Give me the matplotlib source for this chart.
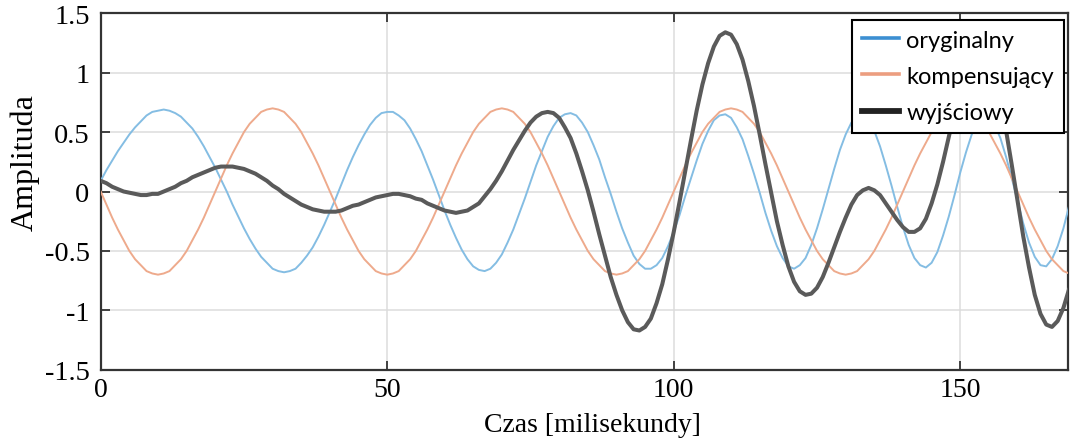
import numpy as np
import matplotlib
matplotlib.use("Agg")
import matplotlib.pyplot as plt
from matplotlib.lines import Line2D

# ---------------- data (1 ms steps) ----------------
time_ms = np.arange(0, 170, 1)

oryginalny = [
    0.09, 0.18, 0.26, 0.34, 0.41, 0.48, 0.54, 0.59, 0.64, 0.67,
    0.68, 0.69, 0.68, 0.66, 0.63, 0.58, 0.53, 0.46, 0.38, 0.29,
    0.20, 0.10, 0.00, -0.11, -0.21, -0.31, -0.40, -0.48, -0.55, -0.60,
    -0.65, -0.67, -0.68, -0.67, -0.65, -0.60, -0.54, -0.47, -0.38, -0.28,
    -0.17, -0.06, 0.06, 0.18, 0.29, 0.39, 0.48, 0.56, 0.62, 0.66,
    0.67, 0.67, 0.64, 0.60, 0.53, 0.44, 0.34, 0.22, 0.10, -0.03,
    -0.16, -0.28, -0.39, -0.49, -0.57, -0.63, -0.66, -0.67, -0.65, -0.60,
    -0.53, -0.43, -0.32, -0.19, -0.06, 0.08, 0.22, 0.34, 0.46, 0.55,
    0.62, 0.65, 0.66, 0.64, 0.58, 0.50, 0.39, 0.27, 0.12, -0.02,
    -0.17, -0.31, -0.43, -0.54, -0.61, -0.65, -0.65, -0.62, -0.56, -0.46,
    -0.34, -0.20, -0.04, 0.11, 0.26, 0.40, 0.51, 0.60, 0.64, 0.65,
    0.62, 0.54, 0.44, 0.30, 0.15, -0.01, -0.18, -0.33, -0.46, -0.56,
    -0.63, -0.65, -0.62, -0.56, -0.45, -0.31, -0.15, 0.02, 0.19, 0.35,
    0.48, 0.58, 0.63, 0.64, 0.60, 0.51, 0.38, 0.22, 0.05, -0.13,
    -0.30, -0.45, -0.56, -0.62, -0.64, -0.60, -0.51, -0.37, -0.21, -0.03,
    0.16, 0.33, 0.48, 0.58, 0.63, 0.62, 0.56, 0.45, 0.29, 0.11,
    -0.08, -0.27, -0.43, -0.55, -0.62, -0.63, -0.57, -0.46, -0.31, -0.12,
]

kompensujacy = [
    0.00, -0.11, -0.22, -0.32, -0.41, -0.50, -0.57, -0.62, -0.67, -0.69,
    -0.70, -0.69, -0.67, -0.62, -0.57, -0.50, -0.41, -0.32, -0.22, -0.11,
    0.00, 0.11, 0.22, 0.32, 0.41, 0.50, 0.57, 0.62, 0.67, 0.69,
    0.70, 0.69, 0.67, 0.62, 0.57, 0.50, 0.41, 0.32, 0.22, 0.11,
    0.00, -0.11, -0.22, -0.32, -0.41, -0.50, -0.57, -0.62, -0.67, -0.69,
    -0.70, -0.69, -0.67, -0.62, -0.57, -0.50, -0.41, -0.32, -0.22, -0.11,
    0.00, 0.11, 0.22, 0.32, 0.41, 0.50, 0.57, 0.62, 0.67, 0.69,
    0.70, 0.69, 0.67, 0.62, 0.57, 0.50, 0.41, 0.32, 0.22, 0.11,
    0.00, -0.11, -0.22, -0.32, -0.41, -0.50, -0.57, -0.62, -0.67, -0.69,
    -0.70, -0.69, -0.67, -0.62, -0.57, -0.50, -0.41, -0.32, -0.22, -0.11,
    0.00, 0.11, 0.22, 0.32, 0.41, 0.50, 0.57, 0.62, 0.67, 0.69,
    0.70, 0.69, 0.67, 0.62, 0.57, 0.50, 0.41, 0.32, 0.22, 0.11,
    0.00, -0.11, -0.22, -0.32, -0.41, -0.50, -0.57, -0.62, -0.67, -0.69,
    -0.70, -0.69, -0.67, -0.62, -0.57, -0.50, -0.41, -0.32, -0.22, -0.11,
    0.00, 0.11, 0.22, 0.32, 0.41, 0.50, 0.57, 0.62, 0.67, 0.69,
    0.70, 0.69, 0.67, 0.62, 0.57, 0.50, 0.41, 0.32, 0.22, 0.11,
    0.00, -0.11, -0.22, -0.32, -0.41, -0.50, -0.57, -0.62, -0.67, -0.69,
]

wyjsciowy = [
    0.09, 0.07, 0.04, 0.02, 0.00, -0.01, -0.02, -0.03, -0.03, -0.02,
    -0.02, 0.00, 0.02, 0.04, 0.07, 0.09, 0.12, 0.14, 0.16, 0.18,
    0.20, 0.21, 0.21, 0.21, 0.20, 0.19, 0.17, 0.15, 0.12, 0.09,
    0.05, 0.02, -0.02, -0.05, -0.08, -0.11, -0.13, -0.15, -0.16, -0.17,
    -0.17, -0.17, -0.16, -0.14, -0.12, -0.11, -0.09, -0.07, -0.05, -0.04,
    -0.03, -0.02, -0.02, -0.03, -0.04, -0.06, -0.07, -0.10, -0.12, -0.14,
    -0.16, -0.17, -0.18, -0.17, -0.16, -0.13, -0.10, -0.04, 0.02, 0.09,
    0.17, 0.26, 0.35, 0.43, 0.51, 0.58, 0.63, 0.66, 0.67, 0.66,
    0.62, 0.54, 0.45, 0.32, 0.17, 0.01, -0.17, -0.36, -0.54, -0.72,
    -0.87, -1.00, -1.10, -1.16, -1.17, -1.14, -1.07, -0.94, -0.78, -0.57,
    -0.34, -0.09, 0.17, 0.43, 0.68, 0.90, 1.08, 1.22, 1.31, 1.34,
    1.32, 1.24, 1.11, 0.93, 0.72, 0.48, 0.23, -0.01, -0.25, -0.45,
    -0.63, -0.76, -0.84, -0.87, -0.86, -0.81, -0.72, -0.60, -0.47, -0.34,
    -0.22, -0.11, -0.03, 0.01, 0.03, 0.01, -0.03, -0.10, -0.17, -0.24,
    -0.30, -0.34, -0.34, -0.31, -0.23, -0.10, 0.06, 0.25, 0.46, 0.67,
    0.86, 1.02, 1.14, 1.20, 1.20, 1.12, 0.97, 0.77, 0.51, 0.22,
    -0.08, -0.38, -0.64, -0.87, -1.03, -1.12, -1.14, -1.09, -0.98, -0.82,
]

x_ticks = [0, 50, 100, 150]
x_tick_labels = ["0", "50", "100", "150"]
y_ticks = [-1.5, -1.0, -0.5, 0.0, 0.5, 1.0, 1.5]
y_tick_labels = ["-1.5", "-1", "-0.5", "0", "0.5", "1", "1.5"]
series_names = ["oryginalny", "kompensujący", "wyjściowy"]

# ---------------- figure ----------------
W, H = 1070, 439
fig = plt.figure(figsize=(W / 100, H / 100), dpi=100)
ax_l, ax_r, ax_t, ax_b = 100.7, 1068.0, 14.3, 370.7
ax = fig.add_axes([ax_l / W, 1 - ax_b / H, (ax_r - ax_l) / W, (ax_b - ax_t) / H])

c_blue = "#84bde3"
c_orange = "#eeaa8c"
c_black = "#5a5a5a"

ax.plot(time_ms, oryginalny, color=c_blue, lw=1.4, zorder=3)
ax.plot(time_ms, kompensujacy, color=c_orange, lw=1.4, zorder=3)
ax.plot(time_ms, wyjsciowy, color=c_black, lw=2.9, zorder=4,
        solid_capstyle="round", solid_joinstyle="round")

ax.set_xlim(0, 168.8)
ax.set_ylim(-1.5, 1.5)

serif = ["Liberation Serif", "DejaVu Serif"]
ax.set_xticks(x_ticks)
ax.set_xticklabels(x_tick_labels, fontfamily=serif, fontsize=20)
ax.set_yticks(y_ticks)
ax.set_yticklabels(y_tick_labels, fontfamily=serif, fontsize=20.5)

ax.grid(True, color="#dcdcdc", lw=1.1, zorder=0)
ax.set_axisbelow(True)

spine_c = "#333333"
for s in ax.spines.values():
    s.set_color(spine_c)
    s.set_linewidth(1.6)
ax.tick_params(axis="both", which="both", direction="in", length=6.5, width=1.3,
               color=spine_c, top=True, right=True, labelcolor="black")
ax.tick_params(axis="x", pad=5)
ax.tick_params(axis="y", pad=8)

ax.set_ylabel("Amplituda", fontfamily=serif, fontsize=23)
ax.yaxis.set_label_coords(-0.063, 0.585)
xlab = ax.set_xlabel("Czas [milisekundy]", fontfamily=serif, fontsize=20)

# legend with proxy handles
handles = [
    Line2D([], [], color="#3c8fd2", lw=2.6),
    Line2D([], [], color="#ec9e80", lw=2.6),
    Line2D([], [], color="#222222", lw=4.2),
]
leg = ax.legend(handles, series_names, loc="upper right",
                bbox_to_anchor=(1064 / W, 1 - 20.7 / H),
                bbox_transform=fig.transFigure, borderaxespad=0,
                prop={"family": ["Lato", "DejaVu Sans"], "size": 17},
                frameon=True, fancybox=False, framealpha=1,
                edgecolor="black", handlelength=1.6, handletextpad=0.3,
                labelspacing=0.64, borderpad=0.42)
leg.get_frame().set_linewidth(1.5)
leg.set_zorder(10)

# place the x label as low as the figure allows, but below the tick labels
fig.canvas.draw()
renderer = fig.canvas.get_renderer()
tick_bottom = min(t.get_window_extent(renderer).y0 for t in ax.get_xticklabels())
xlab.set_va("top")
lab_h = xlab.get_window_extent(renderer).height
top_disp = min(tick_bottom - 1, 1 + lab_h)
inv = ax.transAxes.inverted()
ax.xaxis.set_label_coords(0.508, inv.transform((0, top_disp))[1])

fig.savefig("out.png", dpi=100)
